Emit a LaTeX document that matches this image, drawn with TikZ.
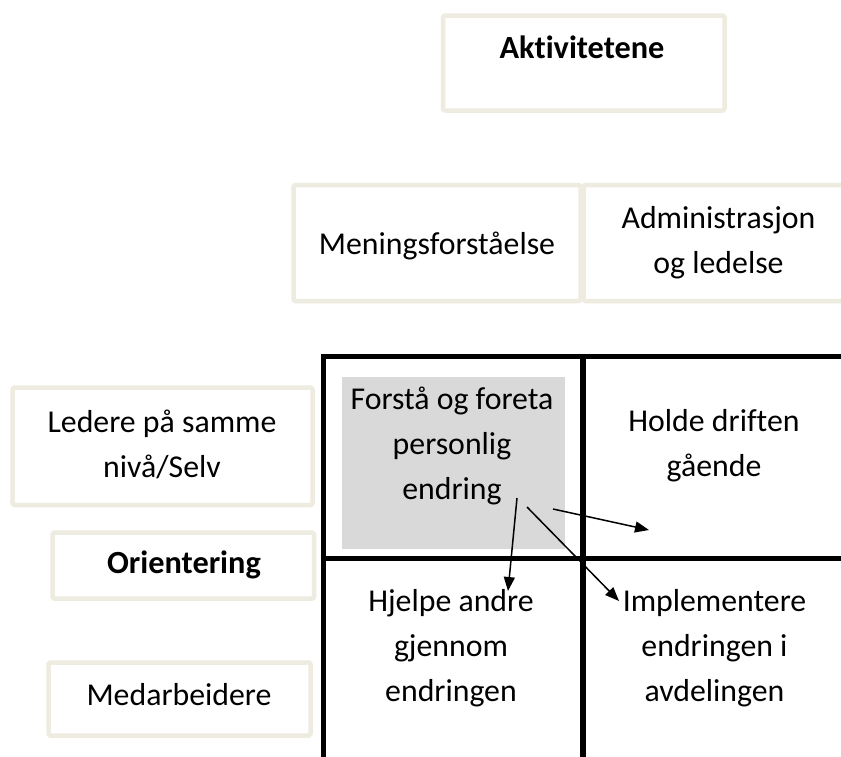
\documentclass[tikz,border=0pt]{standalone}
\usepackage{fontspec}
\setmainfont{Carlito}[Ligatures=NoCommon]
\usetikzlibrary{arrows.meta}
\definecolor{beige}{HTML}{EEEBE0}
\definecolor{cellgray}{HTML}{D9D9D9}
\begin{document}
\begin{tikzpicture}[x=1pt,y=-1pt,
  box/.style={draw=beige, line width=4.5pt, line join=round, rounded corners=1.5pt, inner sep=0pt, outer sep=0pt},
  lbl/.style={font=\fontsize{31.8}{45}\selectfont, align=center, inner sep=0pt, anchor=base},
  blbl/.style={lbl, font=\fontsize{32.3}{45}\selectfont\bfseries},
  gridline/.style={line width=5pt},
  arr/.style={line width=1.5pt, -{Triangle[length=14pt,width=11pt]}}]
\useasboundingbox (0,0) rectangle (841,756);
\clip (0,0) rectangle (841,756);
\fill[white] (0,0) rectangle (841,756);
% beige boxes
\node[box, minimum width=281.5pt, minimum height=95pt] (akt) at (583.75,63) {};
\node[box, minimum width=287pt, minimum height=116pt] (menbox) at (437,243) {};
\node[box, minimum width=280pt, minimum height=116pt] (admbox) at (723.5,243) {};
\node[box, minimum width=300pt, minimum height=117.5pt] (ledbox) at (162.5,446.25) {};
\node[box, minimum width=261.5pt, minimum height=66pt] (oribox) at (183.25,565.6) {};
\node[box, minimum width=262pt, minimum height=73pt] (medbox) at (179.5,699) {};
% gray cell
\node[fill=cellgray, inner sep=0pt, minimum width=223pt, minimum height=172pt] (graycell) at (453.5,463) {};
% grid
\draw[gridline] (323.5,900) -- (323.5,356) -- (900,356);
\draw[gridline] (321,558.5) -- (900,558.5);
\draw[gridline, line width=6pt] (582.5,353.5) -- (582.5,900);
% labels (base = baseline of last line)
\node[blbl] (takt) at (582,58) {Aktivitetene};
\node[lbl] (tmen) at (437,254) {Meningsforståelse};
\node[lbl] (tadm) at (718.5,273) {Administrasjon\\og ledelse};
\node[lbl] (tled) at (162,477) {Ledere på samme\\nivå/Selv};
\node[blbl] (tori) at (184,573) {Orientering};
\node[lbl] (tmed) at (179,705) {Medarbeidere};
\node[lbl] (tfor) at (452,499) {Forstå og foreta\\personlig\\endring};
\node[lbl] (thol) at (714,476) {Holde driften\\gående};
\node[lbl] (thje) at (451,701) {Hjelpe andre\\gjennom\\endringen};
\node[lbl] (timp) at (714.5,701) {Implementere\\endringen i\\avdelingen};
% arrows
\coordinate (a1s) at (517,498);
\coordinate (a1e) at (508,591);
\coordinate (a2s) at (527,507);
\coordinate (a2e) at (619,601);
\coordinate (a3s) at (553,509);
\coordinate (a3e) at (649,530);
\draw[arr] (a1s) -- (a1e);
\draw[arr] (a2s) -- (a2e);
\draw[arr] (a3s) -- (a3e);
\end{tikzpicture}
\end{document}
